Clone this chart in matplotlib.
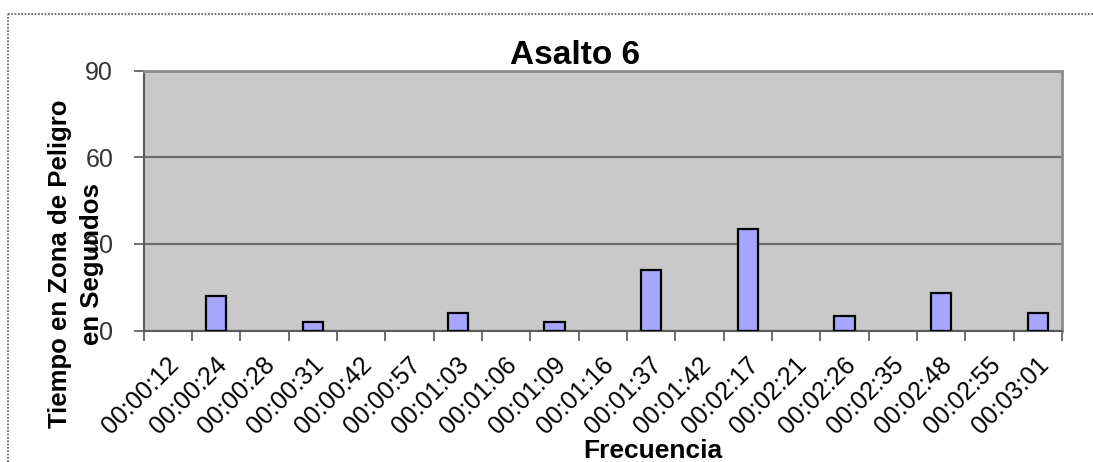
import numpy as np
import matplotlib.pyplot as plt
from matplotlib.lines import Line2D
from matplotlib.transforms import ScaledTranslation

### Datos del grafico
tiempos = ["00:00:12", "00:00:24", "00:00:28", "00:00:31", "00:00:42", "00:00:57",
           "00:01:03", "00:01:06", "00:01:09", "00:01:16", "00:01:37", "00:01:42",
           "00:02:17", "00:02:21", "00:02:26", "00:02:35", "00:02:48", "00:02:55",
           "00:03:01"]
segundos = [0, 12, 0, 3, 0, 0, 6, 0, 3, 0, 21, 0, 35, 0, 5, 0, 13, 0, 6]
y_ticks = [0, 30, 60, 90]

plt.rcParams['font.family'] = ['Liberation Sans', 'DejaVu Sans']

W, H = 1093, 462
fig = plt.figure(figsize=(W / 100, H / 100), dpi=100)
fig.patch.set_facecolor('white')

# zona del grafico (en pixeles de la imagen)
x0, x1, y_top, y_bot = 143.8, 1062, 70.5, 330.5
ax = fig.add_axes([x0 / W, 1 - y_bot / H, (x1 - x0) / W, (y_bot - y_top) / H])
ax.set_facecolor('#C9C9C9')

x = np.arange(len(tiempos))
# sin borde para las barras de valor cero
bordes = [1.6 if v > 0 else 0 for v in segundos]
ax.bar(x, segundos, width=0.42, color='#A6A6FF', edgecolor='black', linewidth=bordes, zorder=3)

ax.set_xlim(-0.5, len(tiempos) - 0.5)
ax.set_ylim(0, 90)
ax.set_yticks(y_ticks)
ax.yaxis.grid(True, color='#6E6E6E', linewidth=1.6)
ax.set_axisbelow(True)

# etiquetas del eje x
ax.set_xticks(x)
ax.set_xticklabels(tiempos, rotation=45, ha='right', va='center', rotation_mode='anchor', fontsize=18)
ax.tick_params(axis='x', which='major', length=0, pad=22)
ax.set_xticks(np.arange(-0.5, len(tiempos)), minor=True)
ax.tick_params(axis='x', which='minor', length=7, width=1.2, color='#555555')
ax.tick_params(axis='y', length=7, width=1.2, color='#555555', labelcolor='#333333',
               labelsize=18, pad=15)
desplaza = ScaledTranslation(5 / 72, 0, fig.dpi_scale_trans)
for lab in ax.get_xticklabels():
    lab.set_transform(lab.get_transform() + desplaza)

for s in ['top', 'right']:
    ax.spines[s].set_color('#8C8C8C')
    ax.spines[s].set_linewidth(2)
for s in ['left', 'bottom']:
    ax.spines[s].set_color('#5A5A5A')
    ax.spines[s].set_linewidth(1.5)

# titulos
fig.text(575 / W, 1 - 55 / H, "Asalto 6", ha='center', va='center', fontsize=24, fontweight='bold')
fig.text(76 / W, 1 - 264 / H, "Tiempo en Zona de Peligro\nen Segundos", rotation=90,
         ha='center', va='center', fontsize=18.5, fontweight='bold', linespacing=1.4)
fig.text(653 / W, 1 - 451 / H, "Frecuencia", ha='center', va='center', fontsize=19, fontweight='bold')

# marco exterior punteado
fig.add_artist(Line2D([8 / W, 8 / W], [0, 1 - 14 / H], transform=fig.transFigure,
                      color='#555555', linewidth=1.2, linestyle=(0, (1, 1))))
fig.add_artist(Line2D([8 / W, 1], [1 - 14 / H, 1 - 14 / H], transform=fig.transFigure,
                      color='#555555', linewidth=1.2, linestyle=(0, (1, 1))))

plt.savefig('out.png', dpi=100)
plt.close()
